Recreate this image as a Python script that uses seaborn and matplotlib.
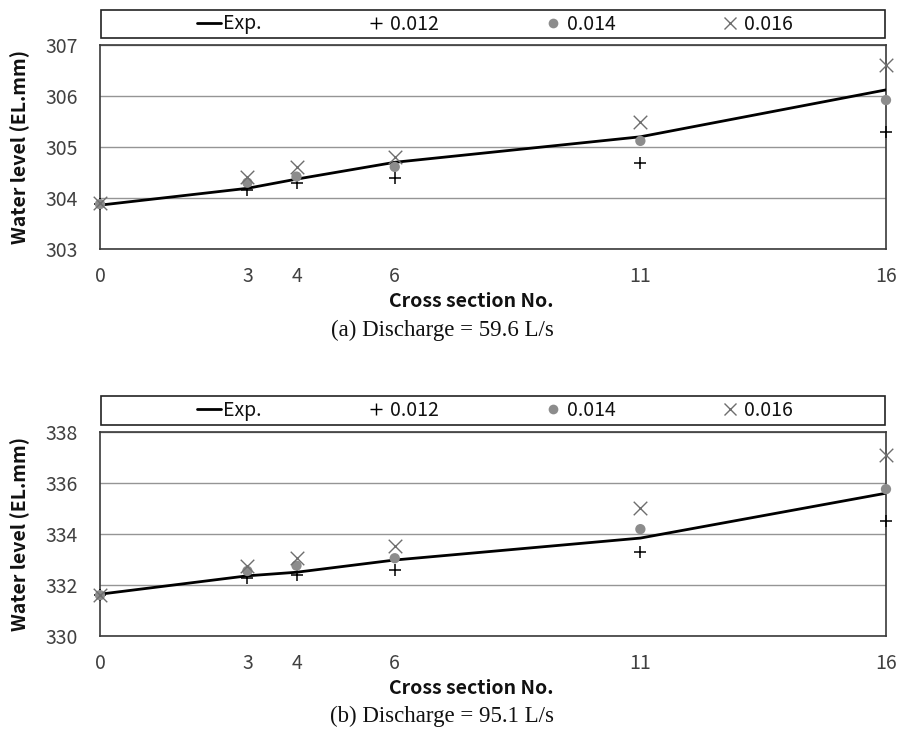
import matplotlib
matplotlib.use("Agg")
import matplotlib.pyplot as plt
import seaborn as sns
import pandas as pd
from matplotlib.patches import Rectangle
from matplotlib.lines import Line2D

# ---- data ----
sections = [0, 3, 4, 6, 11, 16]
series_names = ["0.012", "0.014", "0.016"]

exp_a = [303.86, 304.19, 304.37, 304.70, 305.20, 306.12]
n012_a = [303.88, 304.16, 304.29, 304.39, 304.68, 305.30]
n014_a = [303.88, 304.30, 304.42, 304.61, 305.12, 305.92]
n016_a = [303.90, 304.42, 304.60, 304.81, 305.50, 306.61]

exp_b = [331.64, 332.36, 332.50, 332.98, 333.84, 335.60]
n012_b = [331.60, 332.27, 332.40, 332.59, 333.29, 334.52]
n014_b = [331.60, 332.55, 332.76, 333.05, 334.19, 335.76]
n016_b = [331.60, 332.76, 333.07, 333.51, 335.01, 337.11]

yticks_a = [303, 304, 305, 306, 307]
yticks_b = [330, 332, 334, 336, 338]
captions = ["(a) Discharge = 59.6 L/s", "(b) Discharge = 95.1 L/s"]

sns.set_style("white")
plt.rcParams["font.family"] = ["Noto Sans CJK KR", "DejaVu Sans"]

fig = plt.figure(figsize=(8.97, 7.36), dpi=100)

W, H = 897.0, 736.0
def fx(x): return x / W
def fy(y): return 1 - y / H

panels = [
    dict(exp=exp_a, n=[n012_a, n014_a, n016_a], yt=yticks_a, top=45, bot=249,
         leg=(10, 38), cap=captions[0], capy=330),
    dict(exp=exp_b, n=[n012_b, n014_b, n016_b], yt=yticks_b, top=432, bot=636,
         leg=(396, 425), cap=captions[1], capy=716),
]

left, right = 100, 886
mstyle = {
    "0.012": dict(marker="+", color="black", s=85, linewidth=1.1),
    "0.014": dict(marker="o", color="#8c8c8c", s=55, linewidth=0),
    "0.016": dict(marker="x", color="#6e6e6e", s=95, linewidth=1.0),
}

for p in panels:
    ax = fig.add_axes([fx(left), fy(p["bot"]), fx(right - left), (p["bot"] - p["top"]) / H])
    df = pd.DataFrame({"x": sections, "y": p["exp"]})
    sns.lineplot(data=df, x="x", y="y", ax=ax, color="black", linewidth=2.0, zorder=3)
    for name, vals in zip(series_names, p["n"]):
        d = pd.DataFrame({"x": sections, "y": vals})
        st = mstyle[name]
        sns.scatterplot(data=d, x="x", y="y", ax=ax, marker=st["marker"], color=st["color"],
                        s=st["s"], linewidth=st["linewidth"],
                        edgecolor=st["color"] if name != "0.014" else "none",
                        zorder=4, clip_on=False)
    ax.set_xlim(0, 16)
    ax.set_ylim(p["yt"][0], p["yt"][-1])
    ax.set_xticks(sections)
    ax.set_yticks(p["yt"])
    ax.yaxis.grid(True, color="#959595", linewidth=1.0)
    ax.xaxis.grid(False)
    ax.set_axisbelow(True)
    for sp in ax.spines.values():
        sp.set_color("#3a3a3a")
        sp.set_linewidth(1.2)
    ax.tick_params(axis="both", length=0, labelsize=14, labelcolor="#404040")
    ax.tick_params(axis="y", pad=16)
    ax.tick_params(axis="x", pad=12)
    ax.set_xlabel("Cross section No.", fontsize=14, fontweight="bold", labelpad=4, color="#111111")
    ax.xaxis.label.set_x((471 - left) / (right - left))
    ax.set_ylabel("Water level (EL.mm)", fontsize=14, fontweight="bold", labelpad=11, color="#111111")

    # legend box
    ly0, ly1 = p["leg"]
    fig.patches.append(Rectangle((fx(101), fy(ly1)), fx(885 - 101), (ly1 - ly0) / H,
                                 transform=fig.transFigure, fill=False,
                                 edgecolor="#222222", linewidth=1.2))
    handles = [
        Line2D([], [], color="black", linewidth=2.0),
        Line2D([], [], marker="+", color="black", linestyle="none", markersize=9, markeredgewidth=1.0),
        Line2D([], [], marker="o", color="#8c8c8c", linestyle="none", markersize=7, markeredgewidth=0),
        Line2D([], [], marker="x", color="#6e6e6e", linestyle="none", markersize=8, markeredgewidth=1.0),
    ]
    labels = ["Exp.", "0.012", "0.014", "0.016"]
    fig.legend(handles, labels, loc="center", ncol=4,
               bbox_to_anchor=(fx(495), fy((ly0 + ly1) / 2)),
               frameon=False, fontsize=14, handlelength=1.25, handletextpad=0.1,
               columnspacing=5.25, borderpad=0, labelcolor="#111111")

    fig.text(fx(442), fy(p["capy"]), p["cap"], ha="center", va="center",
             fontsize=16.5, family="Liberation Serif", color="#111111")

fig.savefig("out.png", dpi=100)
